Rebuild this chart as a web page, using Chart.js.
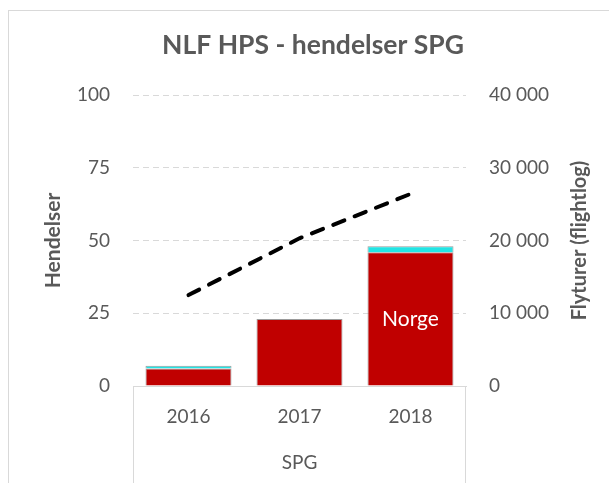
<!DOCTYPE html>
<html>
<head>
<meta charset="utf-8">
<script src="https://cdn.jsdelivr.net/npm/chart.js@4/dist/chart.umd.min.js"></script>
<style>
  html, body { margin: 0; padding: 0; background: #ffffff; overflow: hidden; }
  #wrap { position: relative; width: 609px; height: 483px; }
  #frame { position: absolute; left: 8px; top: 10px; width: 700px; height: 600px; border: 1px solid #d9d9d9; box-sizing: border-box; }
  canvas { position: absolute; left: 0; top: 0; }
</style>
</head>
<body>
<div id="wrap">
  <div id="frame"></div>
  <canvas id="c" width="609" height="483"></canvas>
</div>
<script>
const years = ['2016', '2017', '2018'];
const norge = [6, 23, 46];
const utland = [1, 0, 2];
const flyturer = [12500, 20300, 26400];
const leftTicks = [0, 25, 50, 75, 100];
const rightTicks = [0, 10000, 20000, 30000, 40000];
const chartTitle = 'NLF HPS - hendelser SPG';
const leftTitle = 'Hendelser';
const rightTitle = 'Flyturer (flightlog)';
const groupLabel = 'SPG';

const FONT = 'Lato, "Open Sans", sans-serif';
const TXT = '#595959';
const GRID = '#d9d9d9';

const extras = {
  id: 'extras',
  afterDatasetsDraw(chart) {
    const ctx = chart.ctx;
    const meta = chart.getDatasetMeta(1);
    const el = meta.data[2];
    if (el) {
      ctx.save();
      ctx.fillStyle = '#ffffff';
      ctx.font = '21px ' + FONT;
      ctx.textAlign = 'center';
      ctx.textBaseline = 'middle';
      ctx.fillText(chart.data.datasets[1].label, el.x, (el.y + el.base) / 2);
      ctx.restore();
    }
  },
  afterDraw(chart) {
    const ctx = chart.ctx;
    const a = chart.chartArea;
    ctx.save();
    ctx.strokeStyle = GRID;
    ctx.lineWidth = 1;
    ctx.beginPath();
    ctx.moveTo(Math.round(a.left) + 0.5, a.bottom);
    ctx.lineTo(Math.round(a.left) + 0.5, chart.height);
    ctx.moveTo(Math.round(a.right) - 0.5, a.bottom);
    ctx.lineTo(Math.round(a.right) - 0.5, chart.height);
    ctx.stroke();
    const s = chart.scales.y1;
    ctx.fillStyle = TXT;
    ctx.font = 'bold 20px ' + FONT;
    ctx.textAlign = 'center';
    ctx.textBaseline = 'middle';
    ctx.translate(s.left + 114, (a.top + a.bottom) / 2);
    ctx.rotate(-Math.PI / 2);
    ctx.fillText(rightTitle, 0, 0);
    ctx.restore();
  }
};

new Chart(document.getElementById('c'), {
  data: {
    labels: years,
    datasets: [
      {
        type: 'line', label: 'Flyturer', data: flyturer, yAxisID: 'y1',
        borderColor: '#000000', borderWidth: 4, borderDash: [12, 11], borderCapStyle: 'round',
        pointRadius: 0, tension: 0, fill: false, order: 0
      },
      {
        type: 'bar', label: 'Norge', data: norge, yAxisID: 'y',
        backgroundColor: '#c00000', borderColor: '#9a9a9a', borderWidth: 1,
        barPercentage: 0.775, categoryPercentage: 1, order: 1
      },
      {
        type: 'bar', label: 'Utland', data: utland, yAxisID: 'y',
        backgroundColor: '#22e4e4', borderColor: '#9a9a9a', borderWidth: 1,
        barPercentage: 0.775, categoryPercentage: 1, order: 1
      }
    ]
  },
  options: {
    responsive: false,
    animation: false,
    layout: { padding: { left: 17, right: 0, top: 0, bottom: 0 } },
    plugins: {
      legend: { display: false },
      tooltip: { enabled: false },
      title: {
        display: true, text: chartTitle, color: TXT,
        font: { family: FONT, size: 26.5, weight: 'bold', lineHeight: 1.2 },
        padding: { top: 29.6, bottom: 33.6 }
      }
    },
    scales: {
      x: {
        stacked: true,
        grid: { display: false, drawTicks: false },
        border: { display: true, color: GRID },
        ticks: { color: TXT, font: { family: FONT, size: 19 }, padding: 19 },
        title: { display: true, text: groupLabel, color: TXT, font: { family: FONT, size: 19, lineHeight: 1.2 }, padding: { top: 0, bottom: 8.6 } },
        afterFit(s) { s.height = 97; }
      },
      y: {
        stacked: true, position: 'left', min: 0, max: 100,
        afterBuildTicks(s) { s.ticks = leftTicks.map(v => ({ value: v })); },
        grid: { color: GRID, drawTicks: false },
        border: { display: false, dash: [6, 4] },
        ticks: { color: TXT, font: { family: FONT, size: 19 }, padding: 23 },
        title: { display: true, text: leftTitle, color: TXT, font: { family: FONT, size: 21, weight: 'bold', lineHeight: 1.2 }, padding: { top: 23.4, bottom: 0 } },
        afterFit(s) { s.width = 116; }
      },
      y1: {
        stacked: false, position: 'right', min: 0, max: 40000,
        afterBuildTicks(s) { s.ticks = rightTicks.map(v => ({ value: v })); },
        grid: { drawOnChartArea: false, drawTicks: false },
        border: { display: false },
        ticks: {
          color: TXT, font: { family: FONT, size: 19 }, padding: 23,
          callback: v => String(v).replace(/\B(?=(\d{3})+(?!\d))/g, ' ')
        },
        afterFit(s) { s.width = 143; }
      }
    }
  },
  plugins: [extras]
});
</script>
</body>
</html>
